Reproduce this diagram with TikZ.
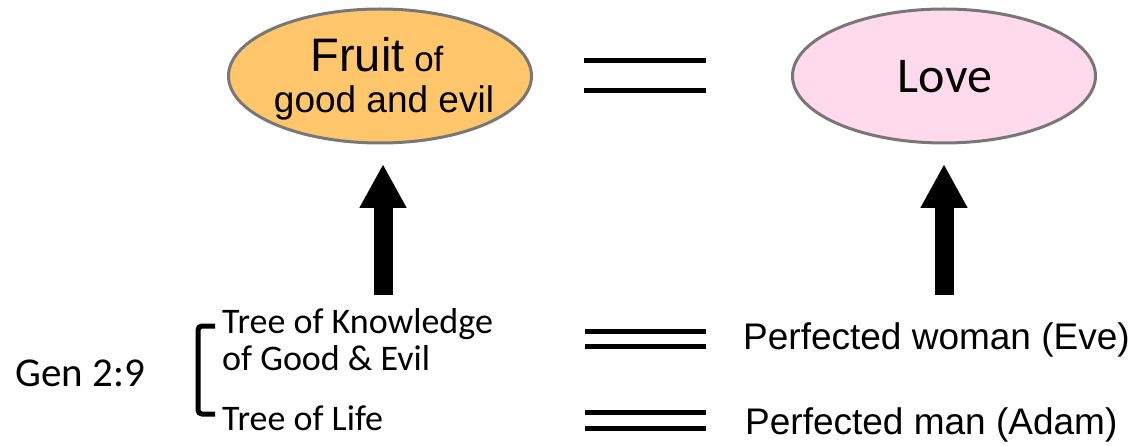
\documentclass[tikz,border=0pt]{standalone}
\usepackage{fontspec}
\usetikzlibrary{shapes.geometric,arrows.meta}
\newfontfamily\arialf{Liberation Sans}
\newfontfamily\calibf{Carlito}
\definecolor{fruitfill}{HTML}{FFC66B}
\definecolor{lovefill}{HTML}{FFD9EC}
\definecolor{rimgray}{HTML}{777777}
\tikzset{
  blob/.style={ellipse, draw=rimgray, line width=3pt, minimum width=303pt, minimum height=134pt, inner sep=0pt},
  eqline/.style={line width=5pt},
  bigarrow/.style={line width=19pt, -{Triangle[width=44pt,length=44pt]}},
  bracketline/.style={line width=5pt, rounded corners=4pt},
  lbl/.style={inner sep=0pt, anchor=base west},
}
\begin{document}
\begin{tikzpicture}[x=1pt,y=-1pt]
\useasboundingbox (0,0) rectangle (1135,446);
% ellipses
\node[blob, fill=fruitfill] (fruit) at (380,76) {};
\node[blob, fill=lovefill] (love) at (944,76) {};
\node[inner sep=0pt, anchor=base] (fruitA) at (377,72) {\arialf\fontsize{47}{50}\selectfont Fruit\fontsize{35}{40}\selectfont{} of};
\node[inner sep=0pt, anchor=base] (fruitB) at (384,113) {\arialf\fontsize{37}{40}\selectfont good and evil};
\node[inner sep=0pt, anchor=base] (lovet) at (945,93) {\calibf\fontsize{50}{54}\selectfont Love};
% top equal sign
\coordinate (e1a) at (584,61); \coordinate (e1b) at (706,61);
\coordinate (e2a) at (584,91); \coordinate (e2b) at (706,91);
\draw[eqline] (e1a) -- (e1b);
\draw[eqline] (e2a) -- (e2b);
% arrows
\coordinate (a1s) at (383,295); \coordinate (a1e) at (383,164);
\coordinate (a2s) at (944,295); \coordinate (a2e) at (944,164);
\draw[bigarrow] (a1s) -- (a1e);
\draw[bigarrow] (a2s) -- (a2e);
% left texts
\node[lbl] (gen) at (15,386) {\calibf\fontsize{41}{46}\selectfont Gen 2:9};
\node[lbl] (tk1) at (222,334) {\calibf\fontsize{36}{40}\selectfont Tree of Knowledge};
\node[lbl] (tk2) at (222,370) {\calibf\fontsize{36}{40}\selectfont of Good \& Evil};
\node[lbl] (tl) at (222,430) {\calibf\fontsize{36}{40}\selectfont Tree of Life};
% bracket
\coordinate (b1) at (215,326); \coordinate (b2) at (198,326);
\coordinate (b3) at (198,414); \coordinate (b4) at (215,414);
\draw[bracketline] (b1) -- (b2) -- (b3) -- (b4);
% lower equal signs
\coordinate (f1a) at (585,331); \coordinate (f1b) at (706,331);
\coordinate (f2a) at (585,346); \coordinate (f2b) at (706,346);
\coordinate (g1a) at (585,412); \coordinate (g1b) at (706,412);
\coordinate (g2a) at (585,428); \coordinate (g2b) at (706,428);
\draw[eqline] (f1a) -- (f1b);
\draw[eqline] (f2a) -- (f2b);
\draw[eqline] (g1a) -- (g1b);
\draw[eqline] (g2a) -- (g2b);
% right texts
\node[lbl] (eve) at (743,349) {\arialf\fontsize{37}{42}\selectfont Perfected woman (Eve)};
\node[lbl] (adam) at (745,434) {\arialf\fontsize{37}{42}\selectfont Perfected man (Adam)};
\end{tikzpicture}
\end{document}
